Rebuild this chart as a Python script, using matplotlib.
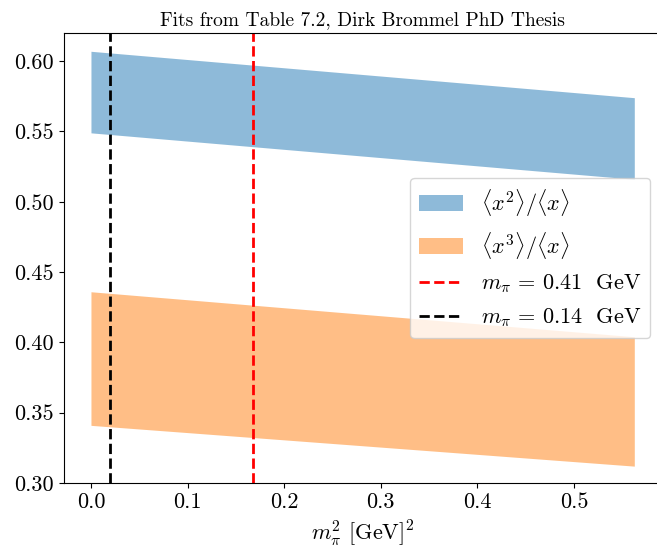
import matplotlib
matplotlib.use('Agg')
import matplotlib.pyplot as plt

plt.rcParams['font.family'] = ['cmr10', 'DejaVu Serif']
plt.rcParams['mathtext.fontset'] = 'cm'
plt.rcParams['axes.formatter.use_mathtext'] = True
plt.rcParams['axes.unicode_minus'] = False

# m_pi^2 range of the fits
m2 = [0.0, 0.5625]
# <x^2>/<x> band
x2_lo = [0.549, 0.516]
x2_hi = [0.607, 0.574]
# <x^3>/<x> band
x3_lo = [0.341, 0.312]
x3_hi = [0.436, 0.404]
# pion masses (GeV)
m_pi_heavy = 0.41
m_pi_phys = 0.14

fig = plt.figure(figsize=(6.57, 5.5), dpi=100)
ax = fig.add_axes([0.0971, 0.1218, 0.9097, 0.8182])

ax.fill_between(m2, x2_lo, x2_hi, color='C0', alpha=0.5, lw=0,
                label=r'$\langle x^2\rangle/\langle x\rangle$')
ax.fill_between(m2, x3_lo, x3_hi, color='C1', alpha=0.5, lw=0,
                label=r'$\langle x^3\rangle/\langle x\rangle$')
ax.axvline(m_pi_heavy**2, color='red', ls='--', lw=2,
           label=r'$m_\pi\,=\,0.41\ $ GeV')
ax.axvline(m_pi_phys**2, color='black', ls='--', lw=2,
           label=r'$m_\pi\,=\,0.14\ $ GeV')

ax.set_ylim(0.30, 0.62)
ax.set_xticks([0.0, 0.1, 0.2, 0.3, 0.4, 0.5])
ax.set_xticklabels(['0.0', '0.1', '0.2', '0.3', '0.4', '0.5'])
ax.set_yticks([0.30, 0.35, 0.40, 0.45, 0.50, 0.55, 0.60])
ax.set_yticklabels(['0.30', '0.35', '0.40', '0.45', '0.50', '0.55', '0.60'])
ax.tick_params(labelsize=16)
ax.set_xlabel(r'$m_\pi^2$ [GeV]$^2$', fontsize=16)
ax.set_title('Fits from Table 7.2, Dirk Brommel PhD Thesis', fontsize=14)
ax.legend(loc='center right', fontsize=16)

fig.savefig('out.png', dpi=100)
